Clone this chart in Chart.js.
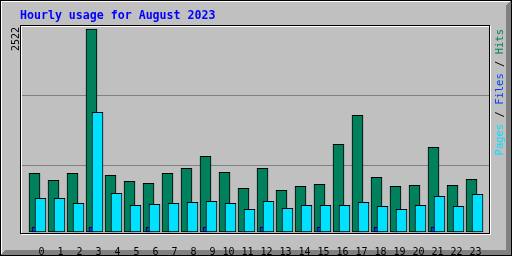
<!DOCTYPE html>
<html>
<head>
<meta charset="utf-8">
<script src="https://cdn.jsdelivr.net/npm/chart.js@4.4.0/dist/chart.umd.min.js"></script>
<style>
  html, body { margin: 0; padding: 0; background: #c0c0c0; }
  canvas { display: block; }
</style>
</head>
<body>
<canvas id="hourlyChart" width="512" height="256"></canvas>
<script>
// values
const hours = ['0', '1', '2', '3', '4', '5', '6', '7', '8', '9', '10', '11',
               '12', '13', '14', '15', '16', '17', '18', '19', '20', '21', '22', '23'];
const hits = [729, 642, 729, 2522, 704, 630, 605, 729, 791, 940, 741, 543,
              791, 518, 568, 593, 1090, 1450, 680, 568, 580, 1052, 580, 655];
const files = [60, 0, 0, 60, 0, 0, 60, 0, 0, 60, 0, 8,
               60, 0, 0, 60, 0, 0, 60, 8, 0, 60, 0, 0];
const pages = [419, 419, 357, 1487, 481, 332, 344, 357, 369, 381, 357, 282,
               381, 294, 332, 332, 332, 369, 319, 282, 332, 443, 319, 468];
const chartTitle = 'Hourly usage for August 2023';

const MONO = '"DejaVu Sans Mono", "Liberation Mono", monospace';
const HIT_COLOR = '#00805c';
const FILE_COLOR = '#0040ff';
const PAGE_COLOR = '#00e0ff';

// one hour slot is 19px wide, the three bars sit shifted inside it
const SLOT = 19;
const peak = Math.max(...hits);
const unit = peak / 203;           // value of one pixel on the y axis
const yMin = -3 * unit;
const yMax = peak + 4 * unit;
const xMin = -14.5 / SLOT;
const xMax = xMin + 471 / SLOT;

function toPoints(values, shift) {
    return values.map((v, i) => ({ x: i + shift / SLOT, y: v }));
}

// grey card, 3d border, sunken plot frame, title and the rotated labels
const framePlugin = {
    id: 'frame',
    beforeDraw(chart) {
        const ctx = chart.ctx;
        const w = chart.width, h = chart.height;
        ctx.save();
        ctx.fillStyle = '#c0c0c0';
        ctx.fillRect(0, 0, w, h);
        ctx.lineWidth = 1;
        ctx.strokeStyle = '#808080';
        for (let i = 0; i < 5; i++) {
            ctx.beginPath();
            ctx.moveTo(w - 1.5 - i, 1 + i);
            ctx.lineTo(w - 1.5 - i, h - 1 - i);
            ctx.moveTo(1 + i, h - 1.5 - i);
            ctx.lineTo(w - 1 - i, h - 1.5 - i);
            ctx.stroke();
        }
        ctx.strokeStyle = '#ffffff';
        ctx.beginPath();
        ctx.moveTo(1, 1.5); ctx.lineTo(w - 2, 1.5);
        ctx.moveTo(1.5, 1); ctx.lineTo(1.5, h - 2);
        ctx.stroke();
        ctx.strokeStyle = '#000000';
        ctx.strokeRect(0.5, 0.5, w - 1, h - 1);
        ctx.restore();
    },
    afterDraw(chart) {
        const ctx = chart.ctx;
        const a = chart.chartArea;
        ctx.save();
        ctx.lineWidth = 1;
        ctx.strokeStyle = '#ffffff';
        ctx.strokeRect(a.left + 1.5, a.top + 1.5, a.right - a.left - 2, a.bottom - a.top - 2);
        ctx.strokeStyle = '#000000';
        ctx.strokeRect(a.left + 0.5, a.top + 0.5, a.right - a.left - 2, a.bottom - a.top - 2);

        // title
        ctx.font = 'bold 11.6px ' + MONO;
        ctx.fillStyle = '#0000ff';
        ctx.textBaseline = 'alphabetic';
        ctx.textAlign = 'left';
        ctx.fillText(chartTitle, 20, 19);

        // peak value, written upwards on the left
        ctx.font = '10px ' + MONO;
        ctx.save();
        ctx.translate(19, 27);
        ctx.rotate(-Math.PI / 2);
        ctx.textAlign = 'right';
        ctx.fillStyle = '#000000';
        ctx.fillText(String(peak), 0, 0);
        ctx.restore();

        // legend, written upwards on the right
        ctx.font = '10.5px ' + MONO;
        const parts = [['Pages', PAGE_COLOR], [' / ', '#000000'], ['Files', FILE_COLOR],
                       [' / ', '#000000'], ['Hits', HIT_COLOR]];
        const total = parts.reduce((s, p) => s + ctx.measureText(p[0]).width, 0);
        ctx.translate(503, 29 + total);
        ctx.rotate(-Math.PI / 2);
        ctx.textAlign = 'left';
        let pos = 0;
        parts.forEach(p => {
            ctx.fillStyle = p[1];
            ctx.fillText(p[0], pos, 0);
            pos += ctx.measureText(p[0]).width;
        });
        ctx.restore();
    }
};

const barStyle = { borderColor: '#000000', borderWidth: 1, borderSkipped: false, grouped: false };

new Chart(document.getElementById('hourlyChart'), {
    type: 'bar',
    data: {
        datasets: [
            Object.assign({ label: 'Pages', data: toPoints(pages, 6), backgroundColor: PAGE_COLOR, barThickness: 11 }, barStyle),
            Object.assign({ label: 'Files', data: toPoints(files, -0.5), backgroundColor: FILE_COLOR, barThickness: 4 }, barStyle),
            Object.assign({ label: 'Hits', data: toPoints(hits, 0), backgroundColor: HIT_COLOR, barThickness: 11 }, barStyle)
        ]
    },
    options: {
        responsive: false,
        animation: false,
        devicePixelRatio: 1,
        layout: { padding: { left: 20, top: 25, right: 21, bottom: 0 } },
        plugins: { legend: { display: false }, title: { display: false }, tooltip: { enabled: false } },
        scales: {
            x: {
                type: 'linear',
                min: xMin,
                max: xMax,
                offset: false,
                grid: { display: false },
                border: { display: false },
                afterBuildTicks: s => { s.ticks = hours.map((hh, i) => ({ value: i + 10 / SLOT })); },
                afterFit: s => { s.height = 21; },
                ticks: {
                    autoSkip: false,
                    maxRotation: 0,
                    align: 'end',
                    padding: 3,
                    color: '#000000',
                    font: { family: MONO, size: 10 },
                    callback: (v, i) => hours[i]
                }
            },
            y: {
                min: yMin,
                max: yMax,
                border: { display: false },
                grid: { color: '#808080', lineWidth: 1, drawTicks: false },
                ticks: { display: false },
                afterBuildTicks: s => { s.ticks = [1, 2].map(k => ({ value: yMin + (yMax - yMin) * k / 3 })); },
                afterFit: s => { s.width = 0; }
            }
        }
    },
    plugins: [framePlugin]
});
</script>
</body>
</html>
